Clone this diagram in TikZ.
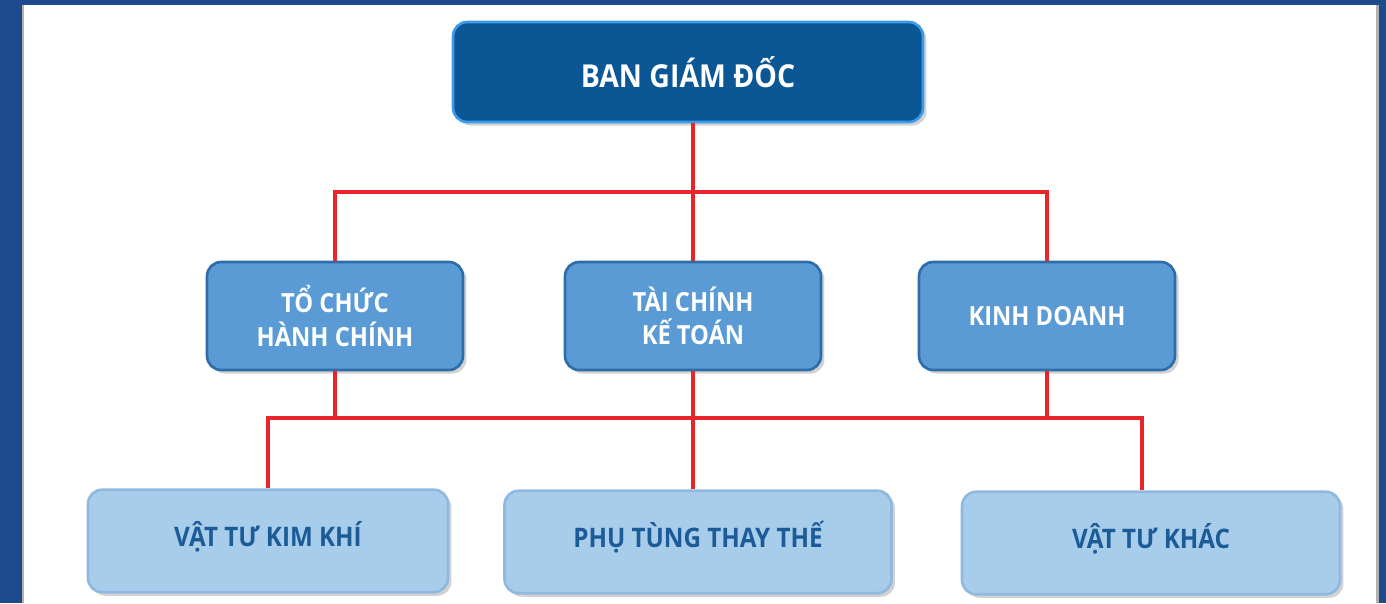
\documentclass[tikz,border=0pt]{standalone}
\usepackage{fontspec}
\setmainfont{Open Sans}[FakeStretch=0.9]
\usetikzlibrary{positioning, calc, shadows}
\definecolor{frameblue}{HTML}{1C4A8C}
\definecolor{bgdblue}{HTML}{0B5796}
\definecolor{bgdedge}{HTML}{3C9BE8}
\definecolor{midblue}{HTML}{5A9BD5}
\definecolor{midedge}{HTML}{2D6DAA}
\definecolor{lightblue}{HTML}{A8CDEB}
\definecolor{lightedge}{HTML}{8FB9DE}
\definecolor{textblue}{HTML}{1B5B98}
\definecolor{linkred}{HTML}{E8262A}

\begin{document}
\begin{tikzpicture}[x=0.02cm, y=-0.02cm,
    box/.style={draw, line width=1.5pt, rounded corners=8pt, align=center,
        drop shadow={shadow xshift=2pt, shadow yshift=-2pt, opacity=0.35}},
    bgdbox/.style={box, fill=bgdblue, draw=bgdedge, text=white, minimum width=9.4cm, minimum height=2cm,
        font=\bfseries\fontsize{18}{20}\selectfont},
    phongbox/.style={box, fill=midblue, draw=midedge, text=white, minimum width=5.12cm, minimum height=2.16cm,
        font=\bfseries\fontsize{15}{19}\selectfont},
    khobox/.style={box, fill=lightblue, draw=lightedge, text=textblue, minimum height=2.05cm, text depth=0.3cm,
        font=\bfseries\fontsize{15.3}{17}\selectfont},
    link/.style={linkred, line width=1.8pt}]
    % khung nen
    \fill[frameblue] (0,0) rectangle (1386,603);
    \fill[white] (22,5) rectangle (1379,603);
    \fill[gray!60] (22,5) rectangle (24,603);
    \fill[gray!60] (1376,5) rectangle (1379,603);
    % cac o
    \node[bgdbox] (bgd) at (688,72) {BAN GIÁM ĐỐC};
    \node[phongbox] (tchc) at (335,316) {TỔ CHỨC\\HÀNH CHÍNH};
    \node[phongbox] (tckt) at (693,316) {TÀI CHÍNH\\KẾ TOÁN};
    \node[phongbox] (kd) at (1047,316) {KINH DOANH};
    \node[khobox, minimum width=7.2cm] (vtkk) at (268,541) {VẬT TƯ KIM KHÍ};
    \node[khobox, minimum width=7.74cm] (ptt) at (698,542) {PHỤ TÙNG THAY THẾ};
    \node[khobox, minimum width=7.56cm] (vtk) at (1151,543) {VẬT TƯ KHÁC};
    % duong noi
    \coordinate (bus1) at (693,192);
    \coordinate (bus2) at (693,418);
    \coordinate (vtkvao) at ($(vtk.north)+(-9,0)$);
    \draw[link] (bgd.south -| tckt.north) -- (tckt.north);
    \draw[link] (tchc.north) |- (bus1) -| (kd.north);
    \draw[link] (tchc.south) |- (bus2) -| (kd.south);
    \draw[link] (tckt.south) -- (tckt.south |- ptt.north);
    \draw[link] (vtkk.north) |- (bus2) -| (vtkvao);
\end{tikzpicture}
\end{document}
